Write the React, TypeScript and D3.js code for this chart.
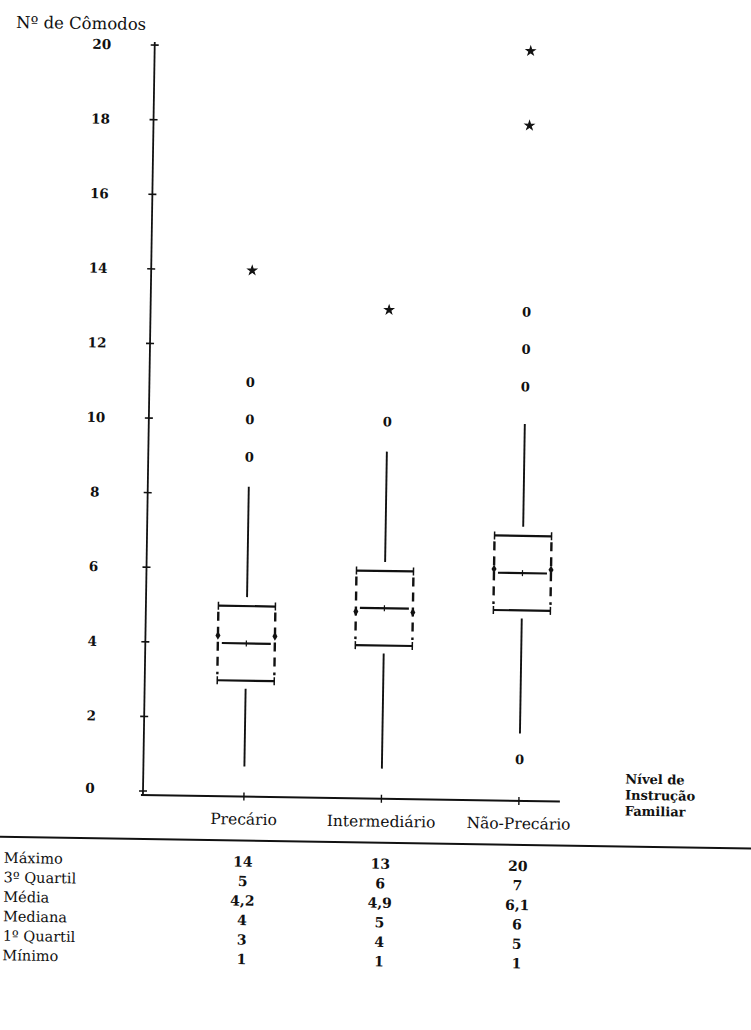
import React from 'react';
import * as d3 from 'd3';

const categories = ['Precário', 'Intermediário', 'Não-Precário'];
const q1Values = [3, 4, 5];
const medianValues = [4, 5, 6];
const q3Values = [5, 6, 7];
const meanValues = [4.2, 4.9, 6.1];
const whiskerLowValues = [0.7, 0.7, 1.7];
const whiskerHighValues = [8.2, 9.2, 10];
const mildOutliers = [[9, 10, 11], [10], [11, 12, 13, 1]];
const extremeOutliers = [[14], [13], [18, 20]];
const yTicks = [0, 2, 4, 6, 8, 10, 12, 14, 16, 18, 20];
const tableRowLabels = ['Máximo', '3º Quartil', 'Média', 'Mediana', '1º Quartil', 'Mínimo'];
const tableValues = [
  ['14', '13', '20'],
  ['5', '6', '7'],
  ['4,2', '4,9', '6,1'],
  ['4', '5', '6'],
  ['3', '4', '5'],
  ['1', '1', '1'],
];
const xAxisTitle = ['Nível de', 'Instrução', 'Familiar'];
const yAxisTitle = 'Nº de Cômodos';

const W = 751;
const H = 1030;
const FONT = '"DejaVu Serif", "Liberation Serif", serif';
const INK = '#111';

export default function App() {
  const y = d3.scaleLinear().domain([0, 20]).range([791, 45]);
  const x = d3.scalePoint<string>().domain(categories).range([244, 519]);
  const axisX = 143;
  const axisY = y(0) + 4;
  const hw = 28.5;
  const star = d3.symbol().type(d3.symbolStar).size(24)() as string;
  const diamond = d3.symbol().type(d3.symbolDiamond).size(22)() as string;

  return (
    <svg width={W} height={H} style={{ position: 'absolute', left: 0, top: 0, background: '#fff' }}
      fontFamily={FONT} fill={INK}>
      <rect x={0} y={0} width={W} height={H} fill="#fff" />
      <g transform={`rotate(0.9, ${axisX}, ${y(0)})`}>
        {/* Y axis title */}
        <text x={4} y={30} fontSize={16.5}>{yAxisTitle}</text>
        {/* Y axis */}
        <line x1={axisX} x2={axisX} y1={axisY} y2={y(20) - 3} stroke={INK} strokeWidth={1.8} />
        {yTicks.map((t) => (
          <g key={t}>
            <line x1={axisX - 4} x2={axisX + 4} y1={y(t)} y2={y(t)} stroke={INK} strokeWidth={1.6} />
            <text x={90} y={t === 0 ? y(t) - 2 : y(t)} dy="0.35em" textAnchor="middle" fontSize={13.5} fontWeight="bold">{t}</text>
          </g>
        ))}
        {/* X axis */}
        <line x1={axisX - 2} x2={560} y1={axisY} y2={axisY} stroke={INK} strokeWidth={2} />
        {categories.map((c) => (
          <line key={c} x1={x(c)!} x2={x(c)!} y1={axisY - 4} y2={axisY + 4} stroke={INK} strokeWidth={1.4} />
        ))}
        {/* Boxes */}
        {categories.map((c, i) => {
          const cx = x(c)!;
          const yq1 = y(q1Values[i]);
          const yq3 = y(q3Values[i]);
          const ym = y(medianValues[i]);
          const ymean = y(meanValues[i]);
          return (
            <g key={c} stroke={INK} fill="none">
              <line x1={cx} x2={cx} y1={yq3 - 9} y2={y(whiskerHighValues[i])} strokeWidth={1.9} />
              <line x1={cx} x2={cx} y1={yq1 + 8} y2={y(whiskerLowValues[i])} strokeWidth={1.9} />
              <line x1={cx - hw} x2={cx + hw} y1={yq3} y2={yq3} strokeWidth={2.2} />
              <line x1={cx - hw} x2={cx + hw} y1={yq1} y2={yq1} strokeWidth={2.2} />
              {[cx - hw, cx + hw].map((sx) => (
                <g key={sx}>
                  <line x1={sx} x2={sx} y1={yq3 - 4} y2={yq3 + 4} strokeWidth={1.5} />
                  <line x1={sx} x2={sx} y1={yq1 - 4} y2={yq1 + 4} strokeWidth={1.5} />
                  <line x1={sx} x2={sx} y1={yq3 + 6} y2={yq1 - 6} strokeWidth={2.4} strokeDasharray="9 6" />
                  <path d={diamond} transform={`translate(${sx},${ymean})`} fill={INK} stroke="none" />
                </g>
              ))}
              <line x1={cx - hw + 4} x2={cx + hw - 4} y1={ym} y2={ym} strokeWidth={2.2} />
              <line x1={cx} x2={cx} y1={ym - 3} y2={ym + 3} strokeWidth={1.2} />
            </g>
          );
        })}
        {/* Outliers */}
        {categories.map((c, i) => (
          <g key={c}>
            {mildOutliers[i].map((v) => (
              <text key={v} x={x(c)!} y={y(v)} dy="0.35em" textAnchor="middle" fontSize={13} fontWeight="bold">0</text>
            ))}
            {extremeOutliers[i].map((v) => (
              <path key={v} d={star} transform={`translate(${x(c)!},${y(v)})`} fill={INK} stroke={INK} strokeWidth={1} />
            ))}
          </g>
        ))}
        {/* X title */}
        {xAxisTitle.map((t, i) => (
          <text key={t} x={625} y={776 + i * 16} fontSize={13} fontWeight="bold">{t}</text>
        ))}
        {/* Category labels */}
        {categories.map((c) => (
          <text key={c} x={x(c)!} y={823} textAnchor="middle" fontSize={15.5}>{c}</text>
        ))}
        <line x1={-5} x2={W + 10} y1={839} y2={839} stroke={INK} strokeWidth={2} />
        {/* Table */}
        {tableRowLabels.map((r, ri) => (
          <g key={r}>
            <text x={5} y={865 + ri * 19.5} fontSize={14.5}>{r}</text>
            {categories.map((c, ci) => (
              <text key={c} x={x(c)!} y={865 + ri * 19.5} textAnchor="middle" fontSize={14} fontWeight="bold">{tableValues[ri][ci]}</text>
            ))}
          </g>
        ))}
      </g>
    </svg>
  );
}
